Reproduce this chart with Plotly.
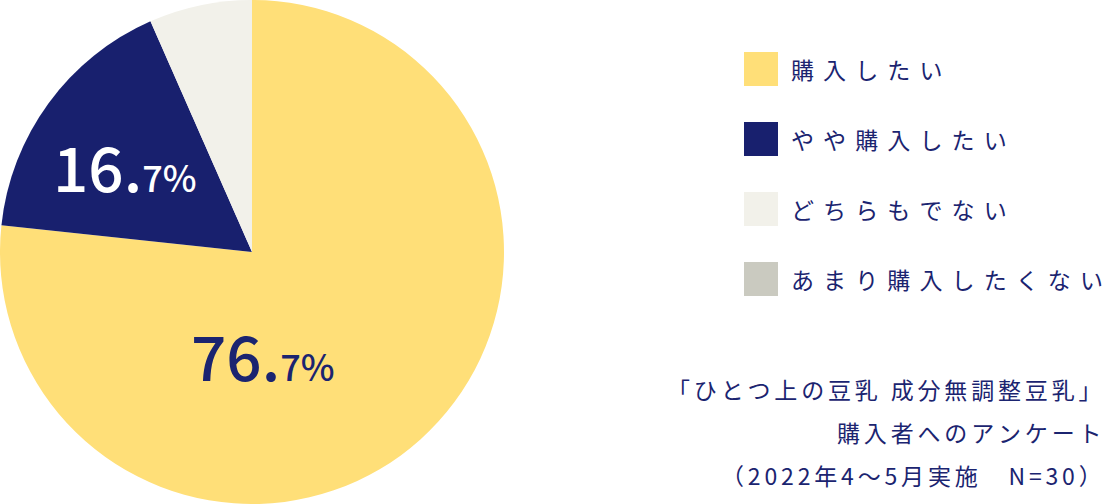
import plotly.graph_objects as go

labels = ["購入したい", "やや購入したい", "どちらもでない", "あまり購入したくない"]
values = [76.7, 16.7, 6.6, 0.0]
colors = ["#FFDF78", "#18206E", "#F2F1EA", "#CACAC0"]
pct_big = ["76.", "16."]
pct_small = ["7%", "7%"]
note_lines = ["「ひとつ上の豆乳 成分無調整豆乳」",
              "購入者へのアンケート",
              "（2022年4～5月実施　N=30）"]

NAVY = "#1B2470"
FONT = "Noto Sans CJK JP"
W, H = 1104, 504


def spaced(s, sp):
    return sp.join(list(s))


fig = go.Figure(go.Pie(
    labels=labels,
    values=values,
    textinfo="none",
    marker=dict(colors=colors, line=dict(width=0)),
    sort=False,
    direction="clockwise",
    rotation=0,
    showlegend=False,
    hoverinfo="label+percent",
    domain=dict(x=[0, 504 / W], y=[0, 1]),
))

# slice labels (big integer part, small decimal)
label_pos = [(262, 354), (124, 165)]
label_col = [NAVY, "#FFFFFF"]
for (px_, py_), big, small, col in zip(label_pos, pct_big, pct_small, label_col):
    fig.add_annotation(xref="paper", yref="paper", x=px_ / W, y=1 - py_ / H,
                       xanchor="center", yanchor="middle", showarrow=False,
                       text=f"{big}<span style='font-size:36px'>{small}</span>",
                       font=dict(family=FONT, size=62, color=col, weight=500))

# legend drawn by hand: big squares with spaced labels
for i, (lab, col) in enumerate(zip(labels, colors)):
    top = 52 + 70 * i
    fig.add_shape(type="rect", xref="paper", yref="paper",
                  x0=744 / W, x1=778 / W, y0=1 - (top + 34) / H, y1=1 - top / H,
                  fillcolor=col, line=dict(width=0))
    fig.add_annotation(xref="paper", yref="paper",
                       x=789 / W, y=1 - (top + 17) / H,
                       xanchor="left", yanchor="middle", showarrow=False,
                       text=spaced(lab, "\u2004\u200a"),
                       font=dict(family=FONT, size=23, color=NAVY))

# survey note
for j, line in enumerate(note_lines):
    fig.add_annotation(xref="paper", yref="paper",
                       x=1, y=1 - (389 + 43 * j) / H,
                       xanchor="right", yanchor="middle", showarrow=False,
                       text=spaced(line, "\u2006"),
                       font=dict(family=FONT, size=23, color=NAVY))

fig.update_layout(
    width=W, height=H,
    margin=dict(l=0, r=0, t=0, b=0),
    paper_bgcolor="white",
    plot_bgcolor="white",
    font=dict(family=FONT, color=NAVY),
)
fig.write_html("out.html", config={"displayModeBar": False},
               post_script="document.body.style.margin='0';")
